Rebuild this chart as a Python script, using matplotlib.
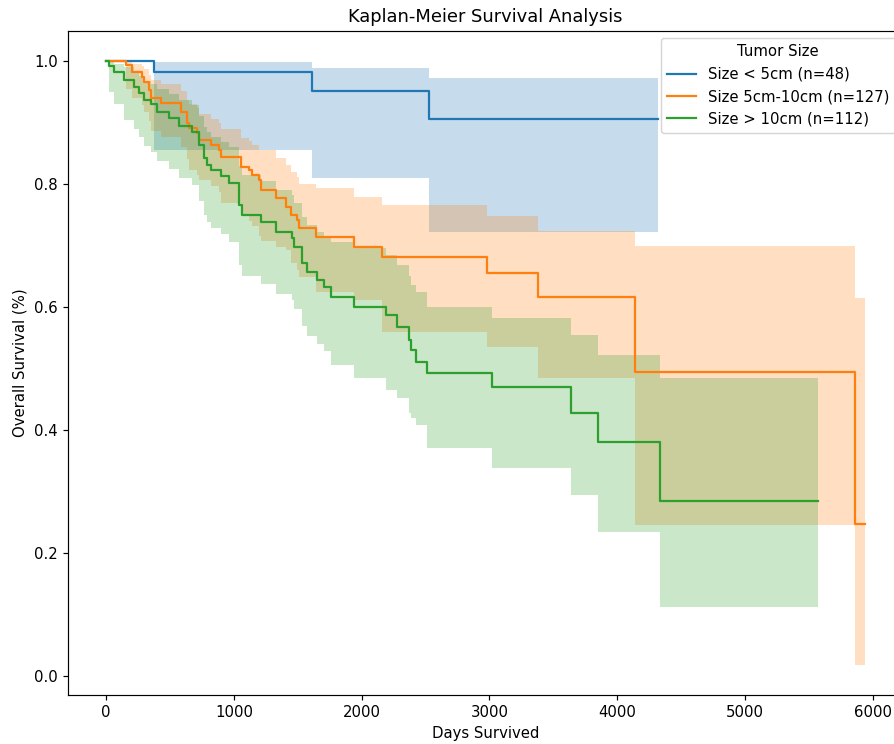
import matplotlib
matplotlib.use("Agg")
import matplotlib.pyplot as plt
import numpy as np

# Kaplan-Meier curves (days, survival, CI bounds)
groups = ["Size < 5cm (n=48)", "Size 5cm-10cm (n=127)", "Size > 10cm (n=112)"]

small_t = [0, 375, 1609, 2523, 4320]
small_s = [1.0, 0.982, 0.951, 0.906, 0.906]
small_hi = [1.0, 0.998, 0.989, 0.972, 0.972]
small_lo = [1.0, 0.855, 0.810, 0.722, 0.722]

mid_t = [0, 156, 203, 281, 297, 336, 352, 430, 586, 633, 648, 711, 727, 820, 883,
         898, 1055, 1117, 1141, 1195, 1211, 1328, 1406, 1445, 1492, 1508, 1641,
         1938, 2156, 2977, 3383, 4141, 5859, 5938]
mid_s = [1.0, 0.993, 0.982, 0.974, 0.966, 0.953, 0.940, 0.932, 0.917, 0.899, 0.891,
         0.883, 0.872, 0.863, 0.855, 0.844, 0.828, 0.823, 0.815, 0.807, 0.790, 0.777,
         0.763, 0.750, 0.741, 0.728, 0.714, 0.698, 0.681, 0.655, 0.616, 0.494, 0.247,
         0.247]
mid_hi = [1.0, 1.0, 0.996, 0.992, 0.987, 0.978, 0.969, 0.963, 0.951, 0.937, 0.930,
          0.923, 0.914, 0.906, 0.899, 0.889, 0.875, 0.870, 0.863, 0.856, 0.855, 0.843,
          0.831, 0.820, 0.811, 0.800, 0.793, 0.779, 0.766, 0.748, 0.724, 0.700, 0.615,
          0.615]
mid_lo = [1.0, 0.955, 0.940, 0.928, 0.917, 0.902, 0.887, 0.877, 0.860, 0.840, 0.823,
          0.815, 0.807, 0.797, 0.787, 0.770, 0.750, 0.740, 0.732, 0.715, 0.708, 0.698,
          0.693, 0.672, 0.660, 0.649, 0.625, 0.611, 0.560, 0.535, 0.485, 0.245, 0.018,
          0.018]

large_t = [0, 23, 63, 141, 219, 258, 297, 352, 398, 492, 570, 672, 727, 766, 789, 820,
           898, 961, 1039, 1063, 1211, 1328, 1453, 1469, 1531, 1570, 1648, 1703, 1758,
           1938, 2188, 2273, 2367, 2383, 2422, 2508, 3016, 3641, 3852, 4336, 5570]
large_s = [1.0, 0.992, 0.982, 0.969, 0.958, 0.948, 0.937, 0.930, 0.917, 0.907, 0.894,
           0.885, 0.863, 0.842, 0.831, 0.823, 0.813, 0.802, 0.766, 0.750, 0.738, 0.722,
           0.712, 0.698, 0.672, 0.657, 0.644, 0.633, 0.616, 0.600, 0.587, 0.567, 0.546,
           0.530, 0.511, 0.493, 0.470, 0.428, 0.380, 0.285, 0.285]
large_hi = [1.0, 1.0, 0.996, 0.990, 0.983, 0.976, 0.968, 0.963, 0.954, 0.946, 0.936,
            0.929, 0.910, 0.893, 0.884, 0.877, 0.869, 0.860, 0.829, 0.815, 0.805, 0.791,
            0.782, 0.770, 0.747, 0.734, 0.722, 0.712, 0.705, 0.696, 0.685, 0.668, 0.650,
            0.636, 0.625, 0.600, 0.582, 0.554, 0.522, 0.485, 0.485]
large_lo = [1.0, 0.950, 0.930, 0.905, 0.890, 0.877, 0.862, 0.852, 0.838, 0.825, 0.810,
            0.798, 0.773, 0.750, 0.738, 0.729, 0.718, 0.706, 0.668, 0.651, 0.638, 0.621,
            0.611, 0.596, 0.569, 0.553, 0.540, 0.528, 0.505, 0.485, 0.465, 0.452, 0.428,
            0.420, 0.408, 0.370, 0.338, 0.294, 0.234, 0.112, 0.112]

series = [
    (small_t, small_s, small_lo, small_hi),
    (mid_t, mid_s, mid_lo, mid_hi),
    (large_t, large_s, large_lo, large_hi),
]
colors = ["#1f77b4", "#ff7f0e", "#2ca02c"]

dpi = 107
fig = plt.figure(figsize=(894 / dpi, 744 / dpi), dpi=dpi)
# the reference is a screenshot cut off on the right, so the axes run past the edge
ax = fig.add_axes([0.0761, 0.0659, 0.934, 0.8925])

for (t, s, lo, hi), c, name in zip(series, colors, groups):
    t = np.array(t)
    ax.fill_between(t, lo, hi, step="post", color=c, alpha=0.25, linewidth=0)
    ax.step(t, s, where="post", color=c, linewidth=1.5, label=name)

ax.set_title("Kaplan-Meier Survival Analysis")
ax.set_xlabel("Days Survived")
ax.set_ylabel("Overall Survival (%)")
ax.legend(title="Tumor Size", loc="upper right")

fig.savefig("out.png", dpi=dpi)
